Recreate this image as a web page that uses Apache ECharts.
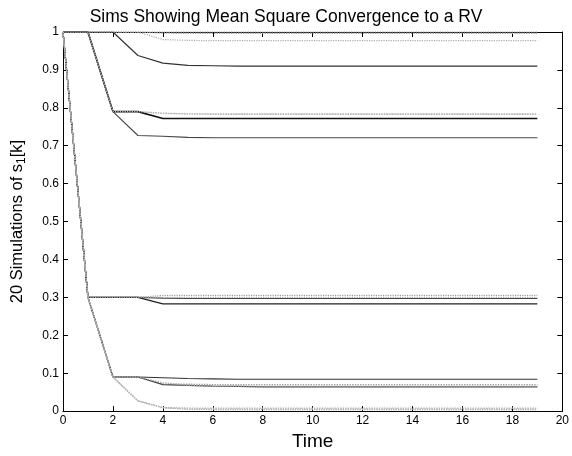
<!DOCTYPE html>
<html>
<head>
<meta charset="utf-8">
<script src="https://cdn.jsdelivr.net/npm/echarts@6/dist/echarts.min.js"></script>
<style>html,body{margin:0;padding:0;background:#fff}#c{width:572px;height:456px}</style>
</head>
<body>
<div id="c"></div>
<script>
var time = [0,1,2,3,4,5,6,7,8,9,10,11,12,13,14,15,16,17,18,19];
var xTicks = [0,2,4,6,8,10,12,14,16,18,20];
var yTicks = [0,0.1,0.2,0.3,0.4,0.5,0.6,0.7,0.8,0.9,1];

var sim01 = [1,1,1,1,1,1,1,1,1,1,1,1,1,1,1,1,1,1,1,1];
var sim02 = [1,1,1,1,0.997,0.996,0.996,0.996,0.996,0.996,0.996,0.996,0.996,0.996,0.996,0.996,0.996,0.996,0.996,0.996];
var sim03 = [1,1,1,1,0.98,0.978,0.977,0.977,0.977,0.977,0.977,0.977,0.977,0.977,0.977,0.977,0.977,0.977,0.977,0.977];
var sim04 = [1,1,1,0.938,0.918,0.912,0.911,0.91,0.91,0.91,0.91,0.91,0.91,0.91,0.91,0.91,0.91,0.91,0.91,0.91];
var sim05 = [1,1,0.79,0.79,0.786,0.784,0.783,0.783,0.783,0.783,0.783,0.783,0.783,0.783,0.783,0.783,0.783,0.783,0.783,0.783];
var sim06 = [1,1,0.79,0.79,0.772,0.772,0.772,0.772,0.772,0.772,0.772,0.772,0.772,0.772,0.772,0.772,0.772,0.772,0.772,0.772];
var sim07 = [1,1,0.79,0.727,0.725,0.722,0.721,0.721,0.721,0.721,0.721,0.721,0.721,0.721,0.721,0.721,0.721,0.721,0.721,0.721];
var sim08 = [1,0.3,0.3,0.3,0.305,0.305,0.305,0.305,0.305,0.305,0.305,0.305,0.305,0.305,0.305,0.305,0.305,0.305,0.305,0.305];
var sim09 = [1,0.3,0.3,0.3,0.298,0.297,0.297,0.297,0.297,0.297,0.297,0.297,0.297,0.297,0.297,0.297,0.297,0.297,0.297,0.297];
var sim10 = [1,0.3,0.3,0.3,0.283,0.283,0.283,0.283,0.283,0.283,0.283,0.283,0.283,0.283,0.283,0.283,0.283,0.283,0.283,0.283];
var sim11 = [1,0.3,0.09,0.09,0.088,0.086,0.085,0.084,0.084,0.084,0.084,0.084,0.084,0.084,0.084,0.084,0.084,0.084,0.084,0.084];
var sim12 = [1,0.3,0.09,0.09,0.072,0.071,0.070,0.070,0.070,0.070,0.070,0.070,0.070,0.070,0.070,0.070,0.070,0.070,0.070,0.070];
var sim13 = [1,0.3,0.09,0.09,0.070,0.068,0.066,0.065,0.064,0.064,0.064,0.064,0.064,0.064,0.064,0.064,0.064,0.064,0.064,0.064];
var sim14 = [1,0.3,0.09,0.09,0.075,0.068,0.066,0.066,0.066,0.066,0.066,0.066,0.066,0.066,0.066,0.066,0.066,0.066,0.066,0.066];
var sim15 = [1,0.3,0.09,0.027,0.009,0.008,0.008,0.008,0.008,0.008,0.008,0.008,0.008,0.008,0.008,0.008,0.008,0.008,0.008,0.008];
var sim16 = [1,0.3,0.09,0.027,0.009,0.005,0.004,0.004,0.004,0.004,0.004,0.004,0.004,0.004,0.004,0.004,0.004,0.004,0.004,0.004];
var sim17 = [1,1,1,1,1,1,1,1,1,1,1,1,1,1,1,1,1,1,1,1];
var sim18 = [1,0.3,0.3,0.3,0.3,0.3,0.3,0.3,0.3,0.3,0.3,0.3,0.3,0.3,0.3,0.3,0.3,0.3,0.3,0.3];
var sim19 = [1,1,0.79,0.79,0.785,0.784,0.784,0.784,0.784,0.784,0.784,0.784,0.784,0.784,0.784,0.784,0.784,0.784,0.784,0.784];
var sim20 = [1,0.3,0.09,0.027,0.009,0.006,0.006,0.006,0.006,0.006,0.006,0.006,0.006,0.006,0.006,0.006,0.006,0.006,0.006,0.006];

var sims = [sim01,sim02,sim03,sim04,sim05,sim06,sim07,sim08,sim09,sim10,sim11,sim12,sim13,sim14,sim15,sim16,sim17,sim18,sim19,sim20];
var styles = [
  ['#aaa','dotted',1.2],['#999','dotted',1.2],['#aaa','dotted',1.2],['#333','solid',1.2],
  ['#aaa','dotted',1.3],['#111','solid',1.6],['#444','solid',1.1],['#999','dotted',1.2],
  ['#444','solid',1.2],['#222','solid',1.3],['#333','solid',1.2],['#999','dotted',1.3],
  ['#444','solid',1.2],['#aaa','dotted',1.3],['#aaa','dotted',1.3],['#999','dotted',1.2],
  ['#888','dotted',1.2],['#aaa','dotted',1.2],['#bbb','dotted',1.2],['#bbb','dotted',1.2]
];

var FONT = '"Liberation Sans", Arial, Helvetica, sans-serif';
var series = sims.map(function (s, i) {
  return {
    type: 'line', xAxisIndex: 0, yAxisIndex: 0,
    data: time.map(function (t, j) { return [t, s[j]]; }),
    showSymbol: false, symbol: 'none', silent: true,
    lineStyle: { color: styles[i][0], type: styles[i][1], width: styles[i][2] }
  };
});

var chart = echarts.init(document.getElementById('c'), null, { renderer: 'canvas' });
var axisCommon = {
  type: 'value',
  axisLine: { show: true, onZero: false, lineStyle: { color: '#000', width: 1 } },
  axisTick: { show: true, inside: true, length: 5, lineStyle: { color: '#000' } },
  splitLine: { show: false }
};
chart.setOption({
  animation: false,
  backgroundColor: '#fff',
  title: {
    text: 'Sims Showing Mean Square Convergence to a RV',
    left: 'center', top: 3,
    textStyle: { fontFamily: FONT, fontSize: 17.5, fontWeight: 'normal', color: '#000' }
  },
  grid: { left: 63, right: 2, top: 32, bottom: 37, show: false },
  xAxis: [
    Object.assign({}, axisCommon, {
      min: xTicks[0], max: xTicks[xTicks.length - 1], interval: 2, position: 'bottom',
      axisLabel: { color: '#000', fontSize: 12, margin: 4, fontFamily: FONT },
      name: 'Time', nameLocation: 'middle', nameGap: 19,
      nameTextStyle: { fontFamily: FONT, fontSize: 19, color: '#000' }
    }),
    Object.assign({}, axisCommon, {
      min: xTicks[0], max: xTicks[xTicks.length - 1], interval: 2, position: 'top',
      axisLabel: { show: false }
    })
  ],
  yAxis: [
    Object.assign({}, axisCommon, {
      min: yTicks[0], max: yTicks[yTicks.length - 1], interval: 0.1, position: 'left',
      axisLabel: { color: '#000', fontSize: 12, margin: 4, fontFamily: FONT },
      name: '20 Simulations of s{sub|1}[k]', nameLocation: 'middle', nameGap: 35,
      nameTextStyle: {
        fontFamily: FONT, fontSize: 16.5, color: '#000',
        rich: { sub: { fontFamily: FONT, fontSize: 12, color: '#000', verticalAlign: 'bottom', padding: [10, 0, 0, 0] } }
      }
    }),
    Object.assign({}, axisCommon, {
      min: yTicks[0], max: yTicks[yTicks.length - 1], interval: 0.1, position: 'right',
      axisLabel: { show: false }
    })
  ],
  series: series
});
</script>
</body>
</html>
